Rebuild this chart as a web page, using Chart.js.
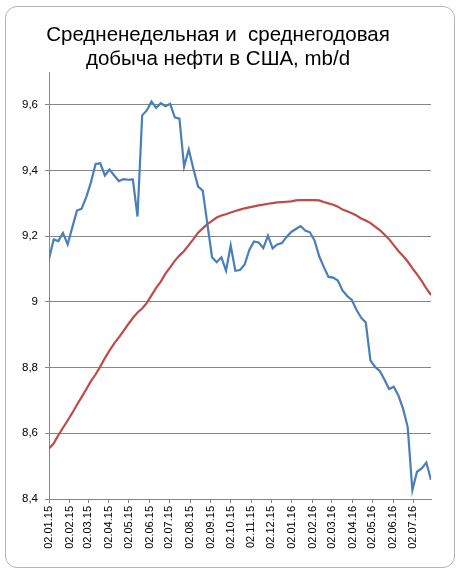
<!DOCTYPE html>
<html>
<head>
<meta charset="utf-8">
<script src="https://cdn.jsdelivr.net/npm/chart.js@4.4.1/dist/chart.umd.min.js"></script>
<style>
  html, body { margin: 0; padding: 0; background: #ffffff; }
  #frame { position: absolute; left: 5px; top: 6px; width: 448px; height: 560px;
           border: 1px solid #b4b4b4; border-radius: 12px; background: #ffffff; }
  #wrap { position: absolute; left: 0; top: 0; width: 460px; height: 575px; }
</style>
</head>
<body>
<div id="frame"></div>
<div id="wrap"><canvas id="c" width="460" height="575" style="width:460px;height:575px"></canvas></div>
<script>
// Weekly dates (categories)
const weekDates = [
  "2015-01-02","2015-01-09","2015-01-16","2015-01-23","2015-01-30",
  "2015-02-06","2015-02-13","2015-02-20","2015-02-27",
  "2015-03-06","2015-03-13","2015-03-20","2015-03-27",
  "2015-04-03","2015-04-10","2015-04-17","2015-04-24",
  "2015-05-01","2015-05-08","2015-05-15","2015-05-22","2015-05-29",
  "2015-06-05","2015-06-12","2015-06-19","2015-06-26",
  "2015-07-03","2015-07-10","2015-07-17","2015-07-24","2015-07-31",
  "2015-08-07","2015-08-14","2015-08-21","2015-08-28",
  "2015-09-04","2015-09-11","2015-09-18","2015-09-25",
  "2015-10-02","2015-10-09","2015-10-16","2015-10-23","2015-10-30",
  "2015-11-06","2015-11-13","2015-11-20","2015-11-27",
  "2015-12-04","2015-12-11","2015-12-18","2015-12-25",
  "2016-01-01","2016-01-08","2016-01-15","2016-01-22","2016-01-29",
  "2016-02-05","2016-02-12","2016-02-19","2016-02-26",
  "2016-03-04","2016-03-11","2016-03-18","2016-03-25",
  "2016-04-01","2016-04-08","2016-04-15","2016-04-22","2016-04-29",
  "2016-05-06","2016-05-13","2016-05-20","2016-05-27",
  "2016-06-03","2016-06-10","2016-06-17","2016-06-24",
  "2016-07-01","2016-07-08","2016-07-15","2016-07-22","2016-07-29"
];

// Weekly average production, mb/d
const weeklyValues = [
  9.131, 9.190, 9.185, 9.210, 9.175, 9.227, 9.278, 9.284, 9.319, 9.364,
  9.420, 9.422, 9.385, 9.403, 9.385, 9.368, 9.374, 9.372, 9.373, 9.260,
  9.568, 9.583, 9.610, 9.591, 9.605, 9.596, 9.603, 9.562, 9.558, 9.412,
  9.464, 9.405, 9.351, 9.339, 9.237, 9.136, 9.121, 9.136, 9.095, 9.172,
  9.095, 9.097, 9.114, 9.158, 9.184, 9.181, 9.164, 9.202, 9.163, 9.175,
  9.179, 9.198, 9.213, 9.222, 9.231, 9.217, 9.212, 9.187, 9.139, 9.106,
  9.076, 9.074, 9.065, 9.035, 9.018, 9.006, 8.976, 8.952, 8.937, 8.822,
  8.802, 8.790, 8.764, 8.735, 8.742, 8.715, 8.675, 8.619, 8.427, 8.483,
  8.493, 8.511, 8.458
];

// Annual (52-week) average production, mb/d
const annualValues = [
  8.554, 8.569, 8.594, 8.617, 8.639, 8.662, 8.687, 8.710, 8.734, 8.759,
  8.779, 8.803, 8.829, 8.852, 8.874, 8.892, 8.912, 8.932, 8.951, 8.968,
  8.980, 8.997, 9.020, 9.043, 9.062, 9.086, 9.105, 9.125, 9.141, 9.155,
  9.173, 9.191, 9.211, 9.224, 9.237, 9.247, 9.257, 9.263, 9.267, 9.272,
  9.277, 9.281, 9.285, 9.288, 9.291, 9.294, 9.296, 9.299, 9.301, 9.303,
  9.304, 9.305, 9.306, 9.309, 9.310, 9.310, 9.310, 9.310, 9.309, 9.304,
  9.300, 9.296, 9.290, 9.281, 9.276, 9.270, 9.263, 9.254, 9.248, 9.240,
  9.229, 9.219, 9.205, 9.191, 9.173, 9.155, 9.140, 9.123, 9.103, 9.084,
  9.064, 9.041, 9.021
];

// Axis tick labels
const xTickLabels = [
  "02.01.15","02.02.15","02.03.15","02.04.15","02.05.15","02.06.15","02.07.15",
  "02.08.15","02.09.15","02.10.15","02.11.15","02.12.15","02.01.16","02.02.16",
  "02.03.16","02.04.16","02.05.16","02.06.16","02.07.16"
];
const yTickLabels = ["8,4","8,6","8,8","9","9,2","9,4","9,6"];

const titleLines = ["Средненедельная и  среднегодовая", "добыча нефти в США, mb/d"];

// helpers: day numbers
const DAY = 86400000;
function isoToDay(s) { const p = s.split("-").map(Number); return Date.UTC(p[0], p[1]-1, p[2]) / DAY; }
function dmyToDay(s) { const p = s.split(".").map(Number); return Date.UTC(2000 + p[2], p[1]-1, p[0]) / DAY; }

const xs = weekDates.map(isoToDay);
const xTickValues = xTickLabels.map(dmyToDay);
const yTickValues = yTickLabels.map(s => parseFloat(s.replace(",", ".")));
const xLabelByValue = {};
xTickLabels.forEach((l, i) => { xLabelByValue[xTickValues[i]] = l; });
const yLabelByValue = {};
yTickLabels.forEach((l, i) => { yLabelByValue[yTickValues[i].toFixed(1)] = l; });

const weeklyData = weeklyValues.map((v, i) => ({ x: xs[i], y: v }));
const annualData = annualValues.map((v, i) => ({ x: xs[i], y: v }));

const gridColor = "#868686";
const fontFamily = "'Liberation Sans', Arial, sans-serif";

new Chart(document.getElementById("c"), {
  type: "line",
  data: {
    datasets: [
      { label: "Средненедельная", data: weeklyData, borderColor: "#4a7ebb", borderWidth: 2.2,
        pointRadius: 0, tension: 0, fill: false },
      { label: "Среднегодовая", data: annualData, borderColor: "#be4b48", borderWidth: 2.2,
        pointRadius: 0, tension: 0, fill: false }
    ]
  },
  options: {
    responsive: false,
    animation: false,
    devicePixelRatio: 1,
    layout: { padding: { left: 5, right: 29, top: 0, bottom: 0 } },
    plugins: {
      legend: { display: false },
      tooltip: { enabled: false },
      title: {
        display: true,
        text: titleLines,
        color: "#000000",
        font: { family: fontFamily, size: 20.5, weight: "normal", lineHeight: 24 / 20.5 },
        padding: { top: 23, bottom: 1 }
      }
    },
    scales: {
      x: {
        type: "linear",
        min: xs[0],
        max: xs[xs.length - 1],
        afterBuildTicks: (scale) => { scale.ticks = xTickValues.map(v => ({ value: v })); },
        afterFit: (scale) => { scale.height = 76; },
        grid: { display: true, drawOnChartArea: false, drawTicks: true, tickLength: 4, color: gridColor },
        border: { display: true, color: gridColor, width: 1 },
        ticks: {
          autoSkip: false, maxRotation: 90, minRotation: 90, padding: 3,
          color: "#000000", font: { family: fontFamily, size: 11 },
          callback: (v) => xLabelByValue[v] || ""
        }
      },
      y: {
        type: "linear",
        min: 8.4,
        max: 9.7,
        afterBuildTicks: (scale) => { scale.ticks = yTickValues.map(v => ({ value: v })); },
        afterFit: (scale) => { scale.width = 44; },
        grid: { display: true, drawOnChartArea: true, drawTicks: true, tickLength: 4, color: gridColor, lineWidth: 1 },
        border: { display: true, color: gridColor, width: 1 },
        ticks: {
          padding: 7, color: "#000000", font: { family: fontFamily, size: 11.5 },
          callback: (v) => yLabelByValue[Number(v).toFixed(1)] || ""
        }
      }
    }
  }
});
</script>
</body>
</html>
